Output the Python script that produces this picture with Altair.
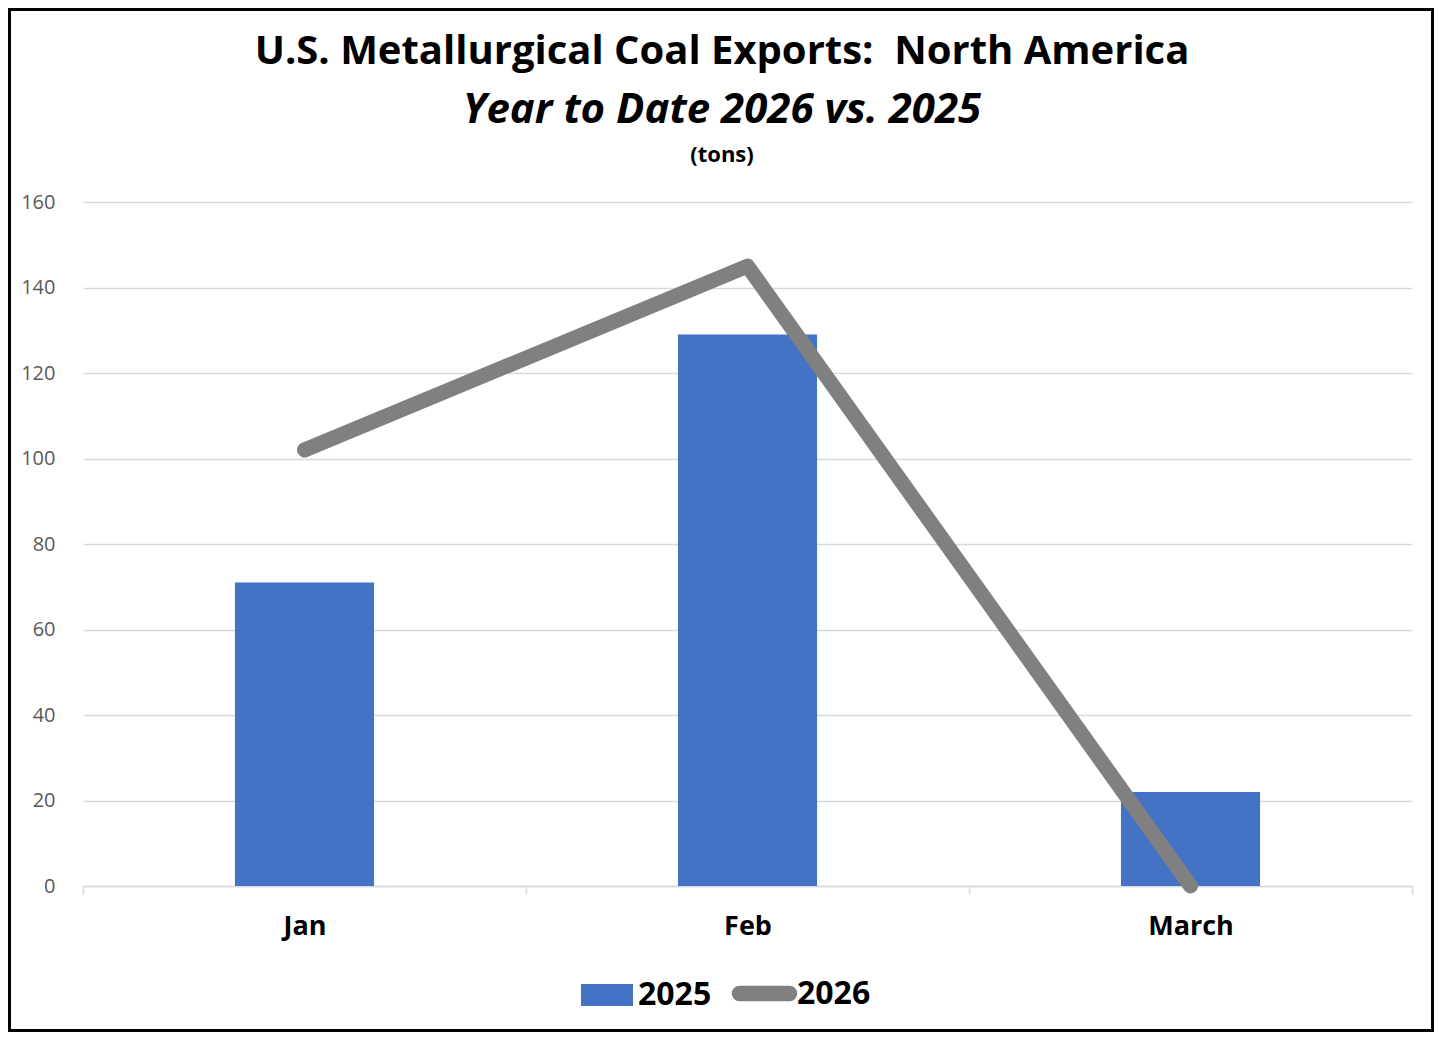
import altair as alt
import pandas as pd

months = ["Jan", "Feb", "March"]
v2025 = [71, 129, 22]
v2026 = [102, 145, 0]
series_names = ["2025", "2026"]
y_ticks = [0, 20, 40, 60, 80, 100, 120, 140, 160]
title_main = "U.S. Metallurgical Coal Exports:\u00a0 North America"
title_sub = "Year to Date 2026 vs. 2025"
title_unit = "(tons)"

rows = []
for m, a, b in zip(months, v2025, v2026):
    rows.append({"month": m, "series": series_names[0], "value": a})
    rows.append({"month": m, "series": series_names[1], "value": b})
df = pd.DataFrame(rows)

W, H = 1329, 684
PL, PT, PR, PB = 75, 194, 22, 146
FONT = "Open Sans"
CX = 639  # horizontal centre of the whole chart, relative to plot left

x_enc = alt.X(
    "month:N", sort=months, title=None,
    scale=alt.Scale(paddingInner=0, paddingOuter=0),
    axis=alt.Axis(
        labelAngle=0, labelFont=FONT, labelFontSize=27, labelFontWeight="bold",
        labelColor="black", labelPadding=19, tickBand="extent", tickSize=8,
        tickColor="#d9d9d9", tickWidth=1.5, domainColor="#d9d9d9", domainWidth=1.5,
        grid=False, gridOpacity=0,
    ),
)
y_enc = alt.Y(
    "value:Q", title=None,
    scale=alt.Scale(domain=[0, 160], nice=False),
    axis=alt.Axis(
        values=y_ticks, labelFont=FONT, labelFontSize=20, labelColor="#595959",
        labelPadding=28, domain=False, ticks=False, gridColor="#d9d9d9", gridWidth=1.5,
    ),
)

bars = alt.Chart(df).transform_filter(alt.datum.series == "2025").mark_bar(
    width=alt.RelativeBandSize(0.314)
).encode(
    x=x_enc, y=y_enc,
    fill=alt.Fill(
        "series:N", scale=alt.Scale(domain=["2025"], range=["#4472C4"]),
        legend=alt.Legend(
            title=None, orient="none", legendX=498, legendY=767, padding=0,
            symbolType="M-1,-0.423H1V0.423H-1Z", symbolSize=2704, symbolStrokeWidth=0,
            labelFont=FONT, labelFontSize=32, labelFontWeight="bold", labelColor="black",
            labelOffset=5,
        ),
    ),
)

line = alt.Chart(df).transform_filter(alt.datum.series == "2026").mark_line(
    strokeWidth=15, strokeCap="round", strokeJoin="round"
).encode(
    x=x_enc, y=y_enc,
    stroke=alt.Stroke(
        "series:N", scale=alt.Scale(domain=["2026"], range=["#808080"]),
        legend=alt.Legend(
            title=None, orient="none", legendX=649, legendY=759, padding=0,
            symbolType="M-1,-0.01H1A0.01,0.01 0 0 1 1,0.01H-1A0.01,0.01 0 0 1 -1,-0.01Z",
            symbolSize=2500, symbolStrokeWidth=15,
            labelFont=FONT, labelFontSize=32, labelFontWeight="bold", labelColor="black",
            labelOffset=0,
        ),
    ),
)

titles = pd.DataFrame({
    "t": [title_main, title_sub, title_unit],
    "k": ["main", "sub", "unit"],
})
t_main = alt.Chart(titles).transform_filter(alt.datum.k == "main").mark_text(
    font=FONT, fontSize=40, fontWeight="bold", color="black", baseline="middle"
).encode(text="t:N", x=alt.value(CX), y=alt.value(-150))
t_sub = alt.Chart(titles).transform_filter(alt.datum.k == "sub").mark_text(
    font=FONT, fontSize=42, fontWeight="bold", fontStyle="italic", color="black",
    baseline="middle"
).encode(text="t:N", x=alt.value(CX), y=alt.value(-92))
t_unit = alt.Chart(titles).transform_filter(alt.datum.k == "unit").mark_text(
    font=FONT, fontSize=22, fontWeight="bold", color="black", baseline="middle"
).encode(text="t:N", x=alt.value(CX), y=alt.value(-47))

frame = alt.Chart(pd.DataFrame({"f": [1]})).mark_rect(
    fillOpacity=0, stroke="black", strokeWidth=3
).encode(
    x=alt.value(-PL + 1.5), x2=alt.value(W + PR - 1.5),
    y=alt.value(-PT + 1.5), y2=alt.value(H + PB - 1.5),
)

chart = alt.layer(bars, line, t_main, t_sub, t_unit, frame).properties(
    width=W, height=H,
    autosize=alt.AutoSizeParams(type="none"),
    padding={"left": PL, "top": PT, "right": PR, "bottom": PB},
).configure_view(
    stroke="transparent", strokeWidth=0
).configure_axisX(grid=False).configure(
    background="white", style={"cell": {"stroke": "transparent", "strokeWidth": 0}}
)

chart.save("out.html", embed_options={"renderer": "svg", "actions": False})
